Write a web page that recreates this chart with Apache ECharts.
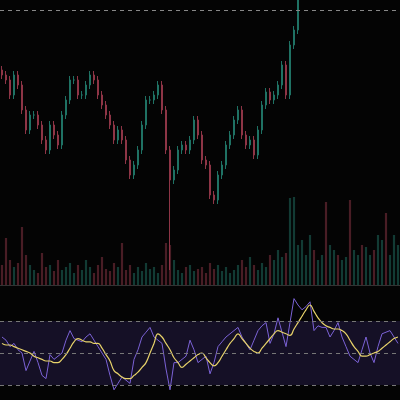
<!DOCTYPE html>
<html>
<head>
<meta charset="utf-8">
<script src="https://cdn.jsdelivr.net/npm/echarts@6/dist/echarts.min.js"></script>
<style>html,body{margin:0;background:#040404}#chart{width:400px;height:400px}</style>
</head>
<body>
<div id="chart"></div>
<script>
// closing prices, one per bar (later bars run above the visible range)
const closes = [210,205,190,210,200,175,155,170,170,160,
  145,135,160,150,140,170,185,205,205,190,
  190,200,210,205,190,180,170,160,145,155,
  145,125,110,120,135,160,185,185,190,200,
  175,135,105,115,135,140,135,145,165,150,
  125,120,90,85,110,120,140,150,165,175,
  150,140,145,130,155,180,193,185,190,200,
  220,190,240,255,295,310,320,330,325,340,
  350,345,360,370,365,380,390,385,400,410,
  405,420,430,425,440,450,445,460,470,480];
const volumes = [20,47,25,18,22,58,30,20,15,12,
  32,18,20,14,25,15,18,22,12,20,
  15,25,18,12,20,28,16,14,22,18,
  42,15,20,12,18,14,22,16,18,12,
  20,42,40,25,15,12,18,20,14,16,
  18,12,22,16,20,14,18,12,15,20,
  25,18,28,20,15,22,18,30,25,35,
  28,32,87,88,40,45,30,50,35,25,
  30,83,40,35,30,25,28,85,35,30,
  40,38,30,35,50,45,72,30,50,40];
const rsi = [60,58,54,56,52,50,39,45,51,44,
  36,34,49,46,48,50,58,64,59,58,
  57,60,62,58,54,50,46,36,27,31,
  35,33,31,46,52,60,63,66,60,58,
  56,40,27,44,44,46,48,58,52,44,
  46,48,37,44,54,57,60,62,64,66,
  60,56,52,58,64,67,69,56,62,72,
  63,54,69,84,80,77,79,82,64,67,
  66,66,60,64,69,60,54,48,46,44,
  52,60,50,44,54,62,63,64,60,56];
const rsiMa = [56,55,55,54,53,52,51,50,48,47,
  46,45,45,44,44,46,49,53,57,59,
  58,57,57,56,56,53,49,45,39,37,
  35,34,34,36,38,41,44,50,56,62,
  60,56,52,47,44,41,43,45,47,49,
  50,47,44,42,44,48,52,56,59,62,
  59,56,53,51,50,53,56,59,62,64,
  63,62,61,65,69,73,77,80,76,72,
  69,67,66,65,65,64,62,58,54,51,
  48,48,49,50,51,53,55,57,59,60];
const levelLine = 275;

const UP = '#1f7264', DOWN = '#8e3546';
const cats = closes.map((_, i) => i);
const candles = closes.map((c, i) => {
  const o = i ? closes[i - 1] : c + 5;
  return [o, c, Math.min(o, c) - 4, Math.max(o, c) + 4];
});
candles[42][2] = 15; // long lower wick
const vol = volumes.map((v, i) => ({
  value: v,
  itemStyle: {color: candles[i][1] >= candles[i][0] ? 'rgba(31,114,100,0.5)' : 'rgba(142,53,70,0.5)'}
}));

const chart = echarts.init(document.getElementById('chart'));
const xa = (g, line) => ({type: 'category', gridIndex: g, data: cats, show: line, boundaryGap: true,
  axisLine: {show: line, lineStyle: {color: '#333'}}, axisTick: {show: false}, axisLabel: {show: false}, splitLine: {show: false}});
const ya = (g, min, max) => ({type: 'value', gridIndex: g, min, max, show: false, splitLine: {show: false}});
chart.setOption({
  backgroundColor: '#040404',
  animation: false,
  grid: [
    {left: 0, right: 0, top: 0, height: 285},
    {left: 0, right: 0, top: 180, height: 105},
    {left: 0, right: 0, top: 273, height: 127}
  ],
  xAxis: [xa(0, true), xa(1, false), xa(2, false)],
  yAxis: [ya(0, 0, 285), ya(1, 0, 105), ya(2, 20.625, 100)],
  series: [
    {type: 'bar', xAxisIndex: 1, yAxisIndex: 1, data: vol, barWidth: '55%'},
    {type: 'candlestick', xAxisIndex: 0, yAxisIndex: 0, data: candles, barWidth: '45%',
      itemStyle: {color: UP, color0: DOWN, borderColor: UP, borderColor0: DOWN},
      markLine: {silent: true, symbol: 'none', label: {show: false},
        lineStyle: {color: '#888', type: [4, 4], width: 1}, data: [{yAxis: levelLine}]}},
    {type: 'line', xAxisIndex: 2, yAxisIndex: 2, data: rsi, symbol: 'none',
      lineStyle: {color: '#7b62d6', width: 1},
      markArea: {silent: true, itemStyle: {color: 'rgba(70,50,130,0.28)'}, data: [[{yAxis: 30}, {yAxis: 70}]]},
      markLine: {silent: true, symbol: 'none', label: {show: false},
        lineStyle: {color: '#777', type: [4, 4], width: 1}, data: [{yAxis: 30}, {yAxis: 50}, {yAxis: 70}]}},
    {type: 'line', xAxisIndex: 2, yAxisIndex: 2, data: rsiMa, symbol: 'none', smooth: true,
      lineStyle: {color: '#e8d36a', width: 1.2}}
  ]
});
</script>
</body>
</html>
